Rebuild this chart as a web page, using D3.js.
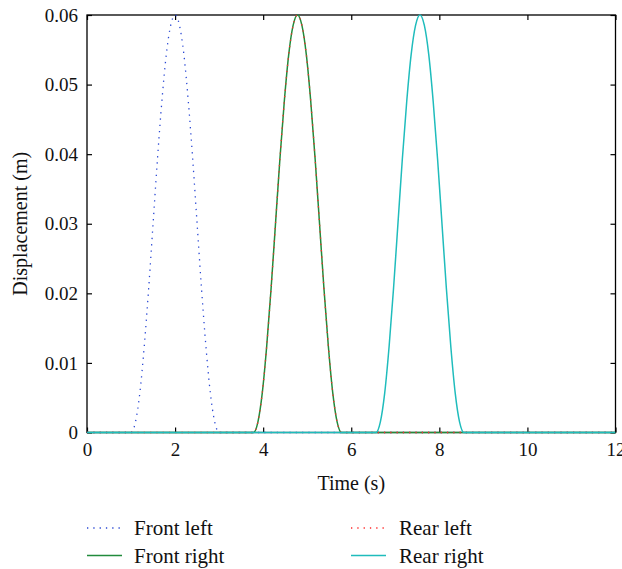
<!DOCTYPE html>
<html>
<head>
<meta charset="utf-8">
<script src="https://cdn.jsdelivr.net/npm/d3@7"></script>
<style>
html,body{margin:0;padding:0;background:#fff;}
svg{display:block;}
text{font-family:"Liberation Serif","DejaVu Serif",serif;fill:#111;}
</style>
</head>
<body>
<svg id="chart" width="622" height="569"></svg>
<script>
// ---- data ----
const xTicks = [0, 2, 4, 6, 8, 10, 12];
const yTicks = [0, 0.01, 0.02, 0.03, 0.04, 0.05, 0.06];

const frontLeftTime  = [0, 1.0, 1.1, 1.2, 1.3, 1.4, 1.5, 1.6, 1.7, 1.8, 1.9, 2.0, 2.1, 2.2, 2.3, 2.4, 2.5, 2.6, 2.7, 2.8, 2.9, 3.0, 12];
const frontLeftDisp  = [0, 0, 0.0015, 0.0057, 0.0124, 0.0207, 0.03, 0.0393, 0.0476, 0.0543, 0.0585, 0.06, 0.0585, 0.0543, 0.0476, 0.0393, 0.03, 0.0207, 0.0124, 0.0057, 0.0015, 0, 0];

const frontRightTime = [0, 3.78, 3.88, 3.98, 4.08, 4.18, 4.28, 4.38, 4.48, 4.58, 4.68, 4.78, 4.88, 4.98, 5.08, 5.18, 5.28, 5.38, 5.48, 5.58, 5.68, 5.78, 12];
const frontRightDisp = [0, 0, 0.0015, 0.0057, 0.0124, 0.0207, 0.03, 0.0393, 0.0476, 0.0543, 0.0585, 0.06, 0.0585, 0.0543, 0.0476, 0.0393, 0.03, 0.0207, 0.0124, 0.0057, 0.0015, 0, 0];

const rearLeftTime   = [0, 3.78, 3.88, 3.98, 4.08, 4.18, 4.28, 4.38, 4.48, 4.58, 4.68, 4.78, 4.88, 4.98, 5.08, 5.18, 5.28, 5.38, 5.48, 5.58, 5.68, 5.78, 12];
const rearLeftDisp   = [0, 0, 0.0015, 0.0057, 0.0124, 0.0207, 0.03, 0.0393, 0.0476, 0.0543, 0.0585, 0.06, 0.0585, 0.0543, 0.0476, 0.0393, 0.03, 0.0207, 0.0124, 0.0057, 0.0015, 0, 0];

const rearRightTime  = [0, 6.56, 6.66, 6.76, 6.86, 6.96, 7.06, 7.16, 7.26, 7.36, 7.46, 7.56, 7.66, 7.76, 7.86, 7.96, 8.06, 8.16, 8.26, 8.36, 8.46, 8.56, 12];
const rearRightDisp  = [0, 0, 0.0015, 0.0057, 0.0124, 0.0207, 0.03, 0.0393, 0.0476, 0.0543, 0.0585, 0.06, 0.0585, 0.0543, 0.0476, 0.0393, 0.03, 0.0207, 0.0124, 0.0057, 0.0015, 0, 0];

const seriesNames = ["Front left", "Front right", "Rear left", "Rear right"];

// ---- styles ----
const series = [
  {name: seriesNames[0], t: frontLeftTime,  v: frontLeftDisp,  color: "#2a48d4", dash: "1.3,5", width: 1.3},
  {name: seriesNames[1], t: frontRightTime, v: frontRightDisp, color: "#228b3c", dash: null,      width: 1.5},
  {name: seriesNames[2], t: rearLeftTime,   v: rearLeftDisp,   color: "#ff2a2a", dash: "1.3,5", width: 1.3},
  {name: seriesNames[3], t: rearRightTime,  v: rearRightDisp,  color: "#1fbcbc", dash: null,      width: 1.5}
];

const svg = d3.select("#chart");
const L = 87, R = 615.5, T = 15, B = 432.5;
const x = d3.scaleLinear().domain([0, 12]).range([L, R]);
const y = d3.scaleLinear().domain([0, 0.06]).range([B, T]);

// frame
svg.append("rect").attr("x", L).attr("y", T).attr("width", R - L).attr("height", B - T)
  .attr("fill", "none").attr("stroke", "#000").attr("stroke-width", 1.3);

const tickLen = 5;
const fmtY = d => d === 0 ? "0" : d3.format(".2f")(d);

// bottom axis
const xb = svg.append("g").attr("transform", `translate(0,${B})`)
  .call(d3.axisBottom(x).tickValues(xTicks).tickSize(-tickLen).tickPadding(10).tickFormat(d3.format("d")));
// top axis (ticks only)
const xt = svg.append("g").attr("transform", `translate(0,${T})`)
  .call(d3.axisTop(x).tickValues(xTicks).tickSize(-tickLen).tickFormat(""));
// left axis
const yl = svg.append("g").attr("transform", `translate(${L},0)`)
  .call(d3.axisLeft(y).tickValues(yTicks).tickSize(-tickLen).tickPadding(9).tickFormat(fmtY));
// right axis (ticks only)
const yr = svg.append("g").attr("transform", `translate(${R},0)`)
  .call(d3.axisRight(y).tickValues(yTicks).tickSize(-tickLen).tickFormat(""));

[xb, xt, yl, yr].forEach(g => {
  g.select(".domain").remove();
  g.selectAll(".tick line").attr("stroke", "#000").attr("stroke-width", 1.2);
  g.selectAll("text").attr("font-family", "Liberation Serif, DejaVu Serif, serif")
    .attr("font-size", 19).attr("fill", "#111");
});

// lines
svg.append("clipPath").attr("id", "clip").append("rect")
  .attr("x", L).attr("y", T - 2).attr("width", R - L).attr("height", B - T + 4);

const lineGen = d3.line().x(d => x(d[0])).y(d => y(d[1])).curve(d3.curveMonotoneX);
const plot = svg.append("g").attr("clip-path", "url(#clip)");
series.forEach(s => {
  const pts = s.t.map((t, i) => [t, s.v[i]]);
  plot.append("path").attr("d", lineGen(pts))
    .attr("fill", "none").attr("stroke", s.color).attr("stroke-width", s.width)
    .attr("stroke-dasharray", s.dash);
});

// axis titles
svg.append("text").attr("x", (L + R) / 2).attr("y", 490).attr("text-anchor", "middle")
  .attr("font-size", 20).text("Time (s)");
svg.append("text").attr("transform", `translate(27,${(T + B) / 2}) rotate(-90)`)
  .attr("text-anchor", "middle").attr("font-size", 20).text("Displacement (m)");

// legend
const legendPos = [
  {lx: 87, tx: 134, y: 528},
  {lx: 87, tx: 134, y: 555.5},
  {lx: 351, tx: 399, y: 528},
  {lx: 351, tx: 399, y: 555.5}
];
series.forEach((s, i) => {
  const p = legendPos[i];
  svg.append("line").attr("x1", p.lx).attr("x2", p.lx + 35).attr("y1", p.y).attr("y2", p.y)
    .attr("stroke", s.color).attr("stroke-width", s.width).attr("stroke-dasharray", s.dash);
  svg.append("text").attr("x", p.tx).attr("y", p.y + 7).attr("font-size", 21).text(s.name);
});
</script>
</body>
</html>
